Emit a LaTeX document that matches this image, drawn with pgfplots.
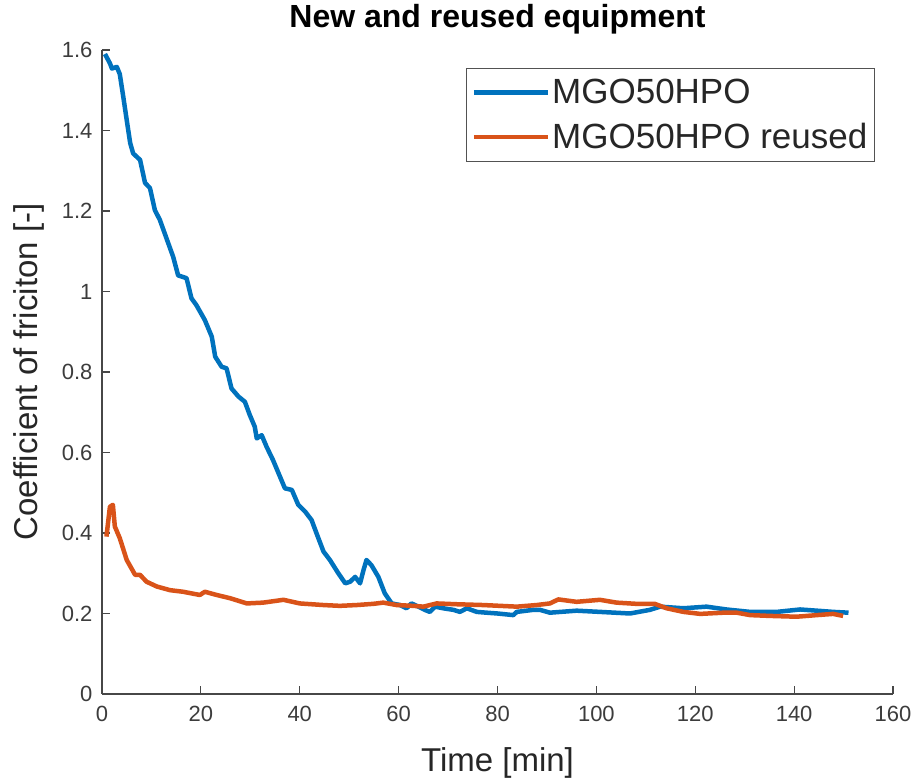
\documentclass[border=0pt]{standalone}
\usepackage{fontspec}
\setmainfont{Liberation Sans}
\usepackage{pgfplots}
\pgfplotsset{compat=1.18}
\definecolor{mblue}{rgb}{0,0.447,0.741}
\definecolor{morange}{rgb}{0.850,0.325,0.098}
\definecolor{axgray}{rgb}{0.15,0.15,0.15}
\begin{document}
\begin{tikzpicture}
\begin{axis}[
  scale only axis,
  width=791pt, height=644pt,
  xmin=0, xmax=160, ymin=0, ymax=1.6,
  xtick={0,20,...,160},
  ytick={0,0.2,0.4,0.6,0.8,1,1.2,1.4,1.6},
  axis lines=left,
  axis line style={-, draw=axgray!85, line width=1.2pt},
  tick style={draw=axgray!85, line width=1.2pt},
  tick align=inside,
  major tick length=8pt,
  /pgf/number format/assume math mode=true,
  /pgf/number format/fixed,
  ticklabel style={font=\fontsize{22}{26}\selectfont, text=axgray!90},
  xticklabel style={yshift=-9pt},
  yticklabel style={xshift=-6pt},
  title={New and reused equipment},
  title style={font=\fontsize{32}{38}\selectfont\bfseries, at={(axis description cs:0.5,1)}, anchor=base, yshift=16pt},
  xlabel={Time [min]},
  xlabel style={font=\fontsize{33}{40}\selectfont, text=axgray, at={(axis description cs:0.5,0)}, anchor=base, yshift=-78pt},
  ylabel={Coefficient of friciton [-]},
  ylabel style={font=\fontsize{33}{40}\selectfont, text=axgray, at={(axis description cs:-0.081,0.5)}, anchor=base, rotate=0},
  legend style={at={(axis description cs:0.977,0.972)}, anchor=north east, draw=axgray!80, line width=1pt,
    font=\fontsize{35}{40}\selectfont, text=axgray, inner xsep=5pt, inner ysep=9pt,
    row sep=14pt},
  legend cell align=left,
  legend image code/.code={\draw[#1] (0pt,0pt) -- (74pt,0pt);},
]
\addplot[mblue, line width=4.5pt, line join=round] coordinates {
(0.6,1.59)(1.6,1.567)(2.0,1.554)(3.0,1.558)(3.6,1.54)(4.3,1.484)(5.0,1.426)(5.7,1.369)(6.3,1.343)(7.7,1.327)(8.7,1.27)(9.7,1.257)(10.7,1.202)(11.7,1.178)(13.4,1.12)(14.4,1.086)(15.4,1.04)(17.1,1.033)(18.1,0.983)(19.1,0.966)(20.8,0.929)(22.2,0.888)(22.9,0.838)(24.2,0.813)(25.2,0.809)(26.2,0.759)(27.6,0.739)(28.9,0.726)(29.9,0.693)(30.9,0.664)(31.3,0.635)(32.3,0.643)(33.3,0.614)(34.6,0.581)(36.0,0.540)(37.0,0.511)(38.4,0.507)(39.7,0.470)(41.1,0.453)(42.4,0.432)(43.4,0.399)(44.8,0.354)(46.1,0.333)(47.8,0.300)(49.2,0.275)(50.2,0.279)(51.2,0.291)(52.2,0.275)(52.9,0.308)(53.5,0.333)(54.5,0.320)(55.9,0.291)(57.2,0.250)(58.6,0.225)(60.3,0.221)(61.6,0.213)(62.6,0.225)(64.0,0.217)(65.3,0.209)(66.3,0.204)(67.4,0.217)(69.0,0.213)(71.1,0.209)(72.4,0.204)(73.8,0.213)(75.8,0.204)(77.8,0.202)(80,0.200)(83.2,0.196)(83.9,0.204)(87.2,0.209)(88.6,0.209)(90.6,0.202)(96.0,0.207)(100.7,0.204)(106.8,0.200)(110.8,0.209)(112.9,0.217)(117.6,0.213)(122.3,0.217)(126.3,0.210)(131.1,0.204)(136.5,0.204)(141.2,0.210)(144.6,0.207)(147.9,0.204)(151.0,0.202)
};
\addlegendentry{MGO50HPO}
\addplot[morange, line width=4.5pt, line join=round] coordinates {
(0.9,0.391)(1.6,0.465)(2.2,0.47)(2.6,0.416)(3.6,0.387)(5.0,0.333)(6.7,0.296)(7.7,0.296)(9.0,0.279)(11.1,0.267)(13.75,0.258)(16.4,0.254)(19.8,0.246)(20.8,0.254)(23.2,0.246)(25.9,0.238)(29.3,0.225)(32.6,0.227)(36.7,0.234)(40.0,0.225)(44.8,0.221)(48.1,0.219)(51.5,0.221)(54.9,0.224)(56.9,0.227)(59.6,0.221)(63.0,0.219)(65.0,0.217)(67.7,0.225)(71.7,0.223)(77.1,0.221)(83.9,0.217)(87.9,0.221)(90.6,0.225)(92.3,0.235)(96.0,0.229)(100.7,0.234)(104.1,0.227)(108.1,0.224)(111.8,0.224)(114.2,0.213)(117.6,0.204)(121.0,0.199)(125.7,0.202)(128.4,0.202)(131.1,0.196)(135.1,0.194)(140.5,0.192)(144.6,0.196)(147.9,0.199)(149.9,0.194)
};
\addlegendentry{MGO50HPO reused}
\end{axis}
\pgfresetboundingbox
\useasboundingbox (-102pt,-89pt) rectangle (816pt,694pt);
\end{tikzpicture}
\end{document}
